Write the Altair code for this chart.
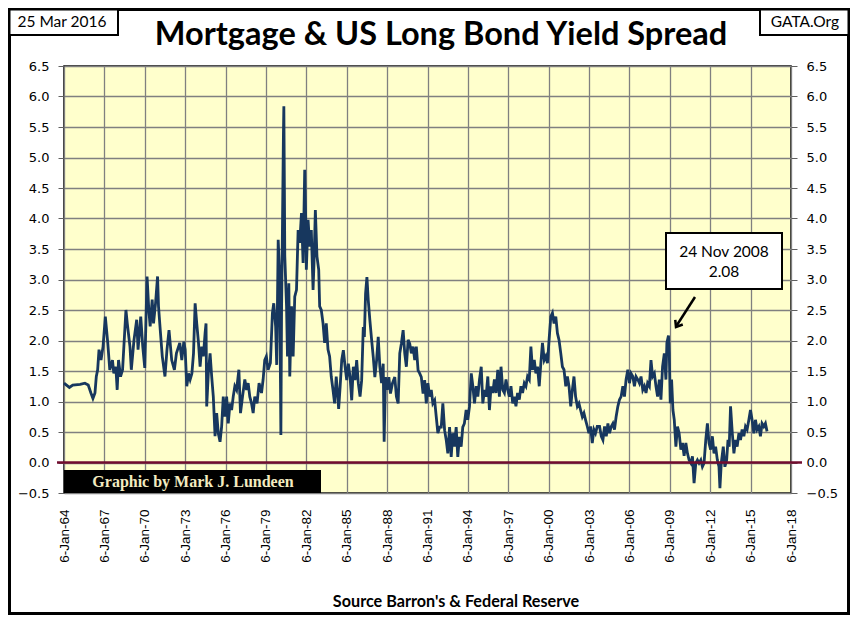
import altair as alt
import pandas as pd

# ---------------- data ----------------
years = [
    1964.00, 1964.40, 1964.65, 1965.20, 1965.55, 1965.80, 1966.00, 1966.15, 1966.30, 1966.40,
    1966.50, 1966.60, 1966.75, 1966.90, 1967.07, 1967.25, 1967.40, 1967.60, 1967.70, 1967.85,
    1967.95, 1968.05, 1968.20, 1968.35, 1968.60, 1968.70, 1968.90, 1969.00, 1969.20, 1969.40,
    1969.50, 1969.70, 1969.85, 1970.00, 1970.17, 1970.30, 1970.40, 1970.55, 1970.65, 1970.80,
    1970.95, 1971.02, 1971.15, 1971.30, 1971.50, 1971.65, 1971.80, 1972.00, 1972.20, 1972.35,
    1972.60, 1972.75, 1972.90, 1973.00, 1973.12, 1973.25, 1973.37, 1973.50, 1973.62, 1973.74,
    1973.86, 1973.99, 1974.11, 1974.23, 1974.35, 1974.48, 1974.55, 1974.60, 1974.72, 1974.85,
    1974.97, 1975.09, 1975.22, 1975.34, 1975.46, 1975.59, 1975.71, 1975.83, 1975.96, 1976.08,
    1976.20, 1976.33, 1976.45, 1976.57, 1976.69, 1976.82, 1976.99, 1977.11, 1977.26, 1977.43,
    1977.56, 1977.68, 1977.80, 1977.93, 1978.05, 1978.17, 1978.34, 1978.49, 1978.67, 1978.79,
    1978.91, 1979.03, 1979.16, 1979.33, 1979.48, 1979.58, 1979.72, 1979.80, 1979.86, 1979.91,
    1980.01, 1980.08, 1980.11, 1980.16, 1980.23, 1980.30, 1980.33, 1980.37, 1980.40, 1980.53,
    1980.60, 1980.70, 1980.77, 1980.90, 1981.02, 1981.14, 1981.27, 1981.39, 1981.51, 1981.64,
    1981.76, 1981.88, 1981.96, 1982.00, 1982.13, 1982.25, 1982.37, 1982.50, 1982.57, 1982.67,
    1982.79, 1982.92, 1982.99, 1983.11, 1983.24, 1983.36, 1983.48, 1983.61, 1983.73, 1983.85,
    1983.98, 1984.10, 1984.22, 1984.34, 1984.40, 1984.51, 1984.63, 1984.75, 1984.88, 1985.00,
    1985.12, 1985.25, 1985.37, 1985.49, 1985.62, 1985.74, 1985.86, 1985.99, 1986.11, 1986.23,
    1986.31, 1986.40, 1986.50, 1986.60, 1986.72, 1986.85, 1986.97, 1987.09, 1987.22, 1987.34,
    1987.46, 1987.59, 1987.71, 1987.78, 1987.88, 1988.00, 1988.13, 1988.25, 1988.40, 1988.57,
    1988.69, 1988.82, 1988.94, 1989.06, 1989.19, 1989.31, 1989.43, 1989.56, 1989.68, 1989.80,
    1989.93, 1990.05, 1990.17, 1990.30, 1990.42, 1990.54, 1990.67, 1990.79, 1990.91, 1991.03,
    1991.16, 1991.28, 1991.40, 1991.53, 1991.65, 1991.77, 1991.90, 1992.02, 1992.14, 1992.27,
    1992.39, 1992.51, 1992.64, 1992.76, 1992.88, 1993.00, 1993.13, 1993.25, 1993.37, 1993.50,
    1993.62, 1993.74, 1993.87, 1993.99, 1994.12, 1994.25, 1994.37, 1994.49, 1994.62, 1994.74,
    1994.86, 1994.99, 1995.11, 1995.23, 1995.35, 1995.48, 1995.60, 1995.72, 1995.85, 1995.97,
    1996.09, 1996.22, 1996.34, 1996.46, 1996.59, 1996.71, 1996.83, 1996.96, 1997.08, 1997.20,
    1997.33, 1997.45, 1997.57, 1997.69, 1997.82, 1997.94, 1998.06, 1998.19, 1998.31, 1998.43,
    1998.56, 1998.68, 1998.80, 1998.93, 1999.05, 1999.17, 1999.30, 1999.42, 1999.54, 1999.67,
    1999.79, 1999.91, 2000.03, 2000.16, 2000.28, 2000.40, 2000.53, 2000.65, 2000.77, 2000.90,
    2001.02, 2001.14, 2001.27, 2001.39, 2001.51, 2001.64, 2001.76, 2001.88, 2002.00, 2002.13,
    2002.25, 2002.37, 2002.50, 2002.62, 2002.74, 2002.87, 2002.99, 2003.11, 2003.24, 2003.36,
    2003.48, 2003.61, 2003.78, 2003.91, 2004.03, 2004.15, 2004.28, 2004.40, 2004.52, 2004.65,
    2004.77, 2004.89, 2005.01, 2005.14, 2005.26, 2005.38, 2005.51, 2005.63, 2005.75, 2005.88,
    2006.00, 2006.12, 2006.25, 2006.37, 2006.49, 2006.62, 2006.74, 2006.86, 2006.99, 2007.11,
    2007.23, 2007.35, 2007.48, 2007.60, 2007.72, 2007.85, 2007.97, 2008.09, 2008.22, 2008.34,
    2008.46, 2008.59, 2008.71, 2008.78, 2008.90, 2008.96, 2009.03, 2009.13, 2009.23, 2009.33,
    2009.45, 2009.57, 2009.69, 2009.82, 2009.94, 2010.06, 2010.19, 2010.31, 2010.43, 2010.56,
    2010.68, 2010.80, 2010.93, 2011.05, 2011.17, 2011.30, 2011.42, 2011.54, 2011.67, 2011.79,
    2011.91, 2012.03, 2012.16, 2012.28, 2012.40, 2012.53, 2012.65, 2012.72, 2012.82, 2012.97,
    2013.09, 2013.22, 2013.32, 2013.41, 2013.51, 2013.64, 2013.76, 2013.88, 2014.00, 2014.13,
    2014.25, 2014.37, 2014.50, 2014.62, 2014.74, 2014.87, 2014.99, 2015.11, 2015.24, 2015.36,
    2015.48, 2015.61, 2015.73, 2015.85, 2015.98, 2016.10, 2016.22,
]
spread = [
    1.30, 1.23, 1.27, 1.28, 1.30, 1.27, 1.14, 1.05, 1.14, 1.41,
    1.52, 1.85, 1.68, 1.90, 2.39, 1.96, 1.52, 1.68, 1.46, 1.57,
    1.19, 1.68, 1.41, 1.52, 2.50, 2.28, 1.90, 1.52, 2.01, 2.34,
    1.85, 2.39, 1.90, 1.55, 3.05, 2.50, 2.23, 2.67, 2.28, 2.61,
    3.05, 2.56, 2.17, 1.74, 1.41, 1.85, 2.17, 1.68, 1.52, 1.79,
    1.96, 1.68, 1.98, 1.85, 1.25, 1.46, 1.36, 1.46, 1.79, 2.61,
    2.28, 1.96, 1.57, 1.90, 1.74, 2.12, 2.28, 0.92, 1.46, 1.79,
    1.41, 1.08, 0.43, 0.81, 0.48, 0.34, 0.59, 1.08, 0.75, 1.08,
    0.64, 0.97, 0.86, 1.08, 1.25, 1.19, 1.52, 0.81, 1.08, 1.36,
    1.19, 1.30, 1.08, 0.97, 0.81, 1.08, 0.97, 1.30, 1.14, 1.36,
    1.68, 1.74, 1.52, 1.63, 2.45, 2.61, 2.23, 1.60, 2.70, 3.65,
    3.10, 1.30, 0.45, 2.50, 3.92, 5.40, 5.84, 4.50, 3.38, 2.56,
    1.74, 2.94, 1.41, 2.56, 1.74, 2.72, 2.83, 3.81, 3.60, 4.09,
    3.27, 4.80, 3.92, 3.16, 3.98, 3.54, 3.81, 2.83, 3.27, 4.14,
    3.38, 3.16, 2.56, 2.50, 2.28, 1.96, 2.28, 1.85, 1.74, 1.41,
    1.19, 0.97, 1.41, 1.08, 0.88, 1.24, 1.68, 1.84, 1.57, 1.35,
    1.62, 1.40, 1.02, 1.57, 1.35, 1.68, 1.30, 1.08, 1.35, 2.22,
    2.06, 2.77, 3.04, 2.66, 2.33, 2.01, 1.73, 1.40, 1.68, 2.06,
    1.57, 1.30, 1.62, 0.34, 1.40, 1.19, 1.40, 1.13, 1.30, 1.40,
    1.08, 0.97, 1.79, 1.95, 2.17, 1.79, 1.57, 2.01, 1.95, 1.79,
    1.90, 1.68, 1.90, 1.51, 1.46, 1.40, 1.13, 1.35, 0.97, 1.30,
    1.08, 1.19, 0.97, 1.02, 0.75, 0.48, 0.58, 0.58, 0.97, 0.53,
    0.37, 0.15, 0.58, 0.09, 0.48, 0.26, 0.58, 0.09, 0.42, 0.26,
    0.58, 0.64, 0.86, 0.70, 0.92, 1.46, 1.25, 0.97, 1.25, 1.08,
    1.36, 1.57, 0.97, 1.19, 1.08, 1.41, 0.86, 1.25, 1.14, 1.36,
    1.14, 1.52, 1.08, 1.57, 1.19, 1.14, 1.36, 1.19, 1.08, 1.25,
    0.97, 1.08, 0.92, 1.14, 1.03, 1.25, 1.14, 1.30, 1.25, 1.41,
    1.36, 1.90, 1.52, 1.68, 1.46, 1.57, 1.25, 1.63, 1.96, 1.68,
    1.74, 1.63, 2.01, 2.39, 2.45, 2.28, 2.39, 2.12, 2.01, 1.79,
    1.57, 1.52, 1.25, 1.41, 1.25, 0.92, 1.19, 1.41, 1.08, 0.92,
    0.97, 0.86, 0.75, 0.81, 0.70, 0.59, 0.48, 0.59, 0.32, 0.54,
    0.48, 0.59, 0.59, 0.43, 0.37, 0.59, 0.43, 0.64, 0.48, 0.59,
    0.64, 0.54, 0.75, 0.92, 1.03, 1.08, 1.25, 1.08, 1.36, 1.52,
    1.30, 1.46, 1.41, 1.25, 1.41, 1.36, 1.30, 1.41, 1.19, 1.25,
    1.14, 1.30, 1.25, 1.68, 1.41, 1.46, 1.25, 1.08, 1.36, 1.03,
    1.57, 1.79, 1.36, 1.96, 2.08, 1.79, 0.97, 1.36, 0.86, 0.70,
    0.26, 0.59, 0.48, 0.21, 0.32, 0.11, 0.32, 0.15, 0.04, -0.01,
    0.10, -0.34, -0.01, 0.04, -0.01, 0.04, -0.07, -0.01, 0.37, 0.64,
    0.32, 0.21, 0.43, 0.15, 0.26, 0.04, -0.07, -0.42, -0.01, 0.26,
    -0.07, 0.04, 0.37, 0.26, 0.92, 0.48, 0.15, 0.37, 0.26, 0.48,
    0.37, 0.54, 0.43, 0.59, 0.54, 0.70, 0.86, 0.70, 0.48, 0.70,
    0.54, 0.59, 0.43, 0.64, 0.59, 0.64, 0.51,
]
x_ticks = list(range(1964, 2019, 3))
y_ticks = [round(-0.5 + 0.5 * i, 1) for i in range(15)]
title_text = "Mortgage & US Long Bond Yield Spread"
date_text = "25 Mar 2016"
site_text = "GATA.Org"
source_text = "Source Barron's & Federal Reserve"
credit_text = "Graphic by Mark J. Lundeen"
note_lines = ["24 Nov 2008", "2.08"]

# ---------------- layout ----------------
W, H = 727, 427
PAD = {"left": 56, "top": 58, "right": 59, "bottom": 122}

df = pd.DataFrame({"year": years, "spread": spread})
one = pd.DataFrame({"a": [0]})
zero = pd.DataFrame({"v": [0.0]})

xscale = alt.Scale(domain=[1964, 2018], nice=False, zero=False)
yscale = alt.Scale(domain=[-0.5, 6.5], nice=False, zero=False)

x_enc = alt.X("year:Q", scale=xscale,
              axis=alt.Axis(values=x_ticks, title=None,
                            labelExpr="'6-Jan-' + substring(toString(datum.value), 2, 4)",
                            labelAngle=-90, labelFont="Liberation Sans", labelFontSize=13.5,
                            labelColor="black", labelPadding=16, ticks=False, domain=False,
                            labelFlush=False, labelOverlap=False,
                            grid=True, gridColor="#808080", gridWidth=1.3))

frame = alt.Chart(one).mark_rect(fill="white", fillOpacity=0, stroke="black", strokeWidth=3).encode(
    x=alt.value(-54.5), x2=alt.value(784.5), y=alt.value(-56.5), y2=alt.value(547.5)
)

line = alt.Chart(df).mark_line(color="#17375E", strokeWidth=2.8).encode(
    x=x_enc,
    y=alt.Y("spread:Q", scale=yscale,
            axis=alt.Axis(values=y_ticks, format=".1f", title=None, orient="left",
                          labelFont="DejaVu Sans", labelFontSize=13, labelColor="black",
                          tickSize=6, tickColor="#606060", labelPadding=9, domain=False,
                          grid=True, gridColor="#808080", gridWidth=1.3)),
)

right_axis = alt.Chart(df).mark_line(opacity=0).encode(
    x=x_enc,
    y=alt.Y("spread:Q", scale=yscale,
            axis=alt.Axis(values=y_ticks, format=".1f", title=None, orient="right",
                          labelFont="DejaVu Sans", labelFontSize=13, labelColor="black",
                          tickSize=6, tickColor="#606060", labelPadding=9, domain=False,
                          grid=False)),
)

zero_rule = alt.Chart(zero).mark_rule(color="#720C2E", strokeWidth=2.5).encode(
    y=alt.Y("v:Q", scale=yscale, axis=None), x=alt.value(-7), x2=alt.value(738)
)

credit_box = alt.Chart(one).mark_rect(fill="black").encode(
    x=alt.value(0), x2=alt.value(257), y=alt.value(404), y2=alt.value(427)
)
credit = alt.Chart(one).mark_text(text=credit_text, font="Liberation Serif", fontWeight="bold",
                                  fontSize=16, color="#F3EBC0", align="center",
                                  baseline="middle").encode(x=alt.value(129), y=alt.value(416))

note_box = alt.Chart(one).mark_rect(fill="white", stroke="black", strokeWidth=2).encode(
    x=alt.value(602), x2=alt.value(718), y=alt.value(167), y2=alt.value(223)
)
note1 = alt.Chart(one).mark_text(text=note_lines[0], font="Lato", fontSize=15.5, color="black",
                                 align="center", baseline="middle").encode(x=alt.value(660), y=alt.value(186))
note2 = alt.Chart(one).mark_text(text=note_lines[1], font="Lato", fontSize=15.5, color="black",
                                 align="center", baseline="middle").encode(x=alt.value(660), y=alt.value(206))
arrow_shaft = alt.Chart(one).mark_rule(color="black", strokeWidth=2.5).encode(
    x=alt.value(631), y=alt.value(231), x2=alt.value(613), y2=alt.value(259)
)
arrow_head = alt.Chart(one).mark_point(shape="M -0.7 0.9 L 0 0 L 0.7 0.9", filled=False,
                                       stroke="black", strokeWidth=2.5, size=160, angle=212,
                                       opacity=1).encode(x=alt.value(612), y=alt.value(261))

title = alt.Chart(one).mark_text(text=title_text, font="Lato", fontWeight="bold", fontSize=32.5,
                                 color="black", align="center", baseline="alphabetic").encode(
    x=alt.value(377), y=alt.value(-21))

date_box = alt.Chart(one).mark_rect(fill="white", stroke="black", strokeWidth=2).encode(
    x=alt.value(-54.5), x2=alt.value(54), y=alt.value(-56.5), y2=alt.value(-31)
)
date_lbl = alt.Chart(one).mark_text(text=date_text, font="Lato", fontSize=15.5, color="black",
                                    align="center", baseline="middle").encode(x=alt.value(-2), y=alt.value(-44))
site_box = alt.Chart(one).mark_rect(fill="white", stroke="black", strokeWidth=2).encode(
    x=alt.value(696), x2=alt.value(784.5), y=alt.value(-56.5), y2=alt.value(-31)
)
site_lbl = alt.Chart(one).mark_text(text=site_text, font="Lato", fontSize=15.5, color="black",
                                    align="center", baseline="middle").encode(x=alt.value(741), y=alt.value(-44))

source = alt.Chart(one).mark_text(text=source_text, font="Lato", fontWeight="bold", fontSize=16.2,
                                  color="black", align="center", baseline="middle").encode(
    x=alt.value(392), y=alt.value(536))

chart = alt.layer(
    frame, line, right_axis, zero_rule, credit_box, credit, note_box, note1, note2,
    arrow_shaft, arrow_head, title, date_box, date_lbl, site_box, site_lbl, source
).resolve_axis(y="independent").properties(
    width=W, height=H, padding=PAD, autosize=alt.AutoSizeParams(type="none"),
    background="white"
).configure_view(fill="#FFFFCC", stroke="black", strokeWidth=1.5)

chart.save("out.html", embed_options={"renderer": "svg", "actions": False})
